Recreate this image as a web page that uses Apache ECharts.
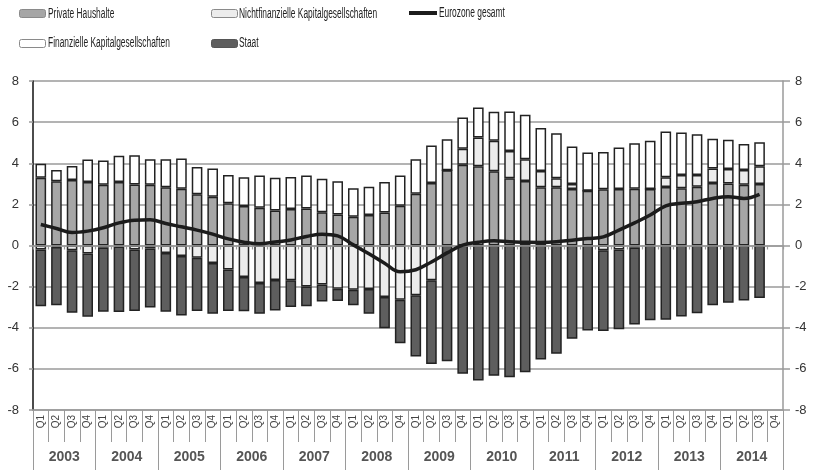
<!DOCTYPE html>
<html>
<head>
<meta charset="utf-8">
<script src="https://cdn.jsdelivr.net/npm/echarts@6/dist/echarts.min.js"></script>
<style>
  html, body { margin: 0; padding: 0; background: #fff; }
  #chart { width: 813px; height: 474px; }
</style>
</head>
<body>
<div id="chart"></div>
<script>
// Finanzierungssalden der Sektoren im Euroraum, Quartale 2003 Q1 – 2014 Q4 (in % des BIP)
const years = ['2003', '2004', '2005', '2006', '2007', '2008', '2009', '2010', '2011', '2012', '2013', '2014'];
const quarterNames = ['Q1', 'Q2', 'Q3', 'Q4'];
const periods = years.flatMap(y => quarterNames.map(q => y + ' ' + q));
const quarterLabels = years.flatMap(() => quarterNames);

const privateHaushalte = [
  3.30, 3.12, 3.19, 3.09, 2.96, 3.09, 2.97, 2.96, 2.83, 2.76, 2.49, 2.37,
  2.05, 1.92, 1.83, 1.70, 1.77, 1.80, 1.62, 1.51, 1.40, 1.48, 1.61, 1.93,
  2.52, 3.04, 3.66, 3.93, 3.85, 3.61, 3.27, 3.14, 2.83, 2.83, 2.75, 2.66,
  2.73, 2.75, 2.76, 2.75, 2.84, 2.78, 2.86, 3.04, 3.02, 2.96, 2.99, null
];
const nichtfinanzielle = [
  -0.20, -0.07, -0.23, -0.39, -0.10, -0.05, -0.20, -0.15, -0.36, -0.51, -0.60, -0.85,
  -1.17, -1.53, -1.82, -1.68, -1.69, -1.99, -1.90, -2.10, -2.15, -2.12, -2.51, -2.64,
  -2.42, -1.69, 0.00, 0.78, 1.40, 1.48, 1.32, 1.05, 0.79, 0.44, 0.24, 0.00,
  -0.23, -0.20, -0.10, 0.00, 0.48, 0.65, 0.57, 0.70, 0.70, 0.71, 0.86, null
];
const finanzielle = [
  0.67, 0.55, 0.68, 1.09, 1.17, 1.28, 1.42, 1.23, 1.36, 1.47, 1.33, 1.38,
  1.38, 1.40, 1.57, 1.60, 1.56, 1.60, 1.63, 1.61, 1.38, 1.38, 1.48, 1.47,
  1.67, 1.82, 1.51, 1.51, 1.46, 1.41, 1.93, 2.17, 2.09, 2.19, 1.82, 1.86,
  1.82, 2.01, 2.21, 2.34, 2.22, 2.06, 1.98, 1.45, 1.42, 1.27, 1.17, null
];
const staat = [
  -2.76, -2.83, -3.04, -3.07, -3.12, -3.19, -2.99, -2.87, -2.86, -2.90, -2.59, -2.47,
  -2.02, -1.67, -1.50, -1.48, -1.30, -0.97, -0.82, -0.60, -0.76, -1.20, -1.51, -2.11,
  -2.98, -4.07, -5.63, -6.24, -6.57, -6.33, -6.41, -6.17, -5.55, -5.27, -4.54, -4.13,
  -3.93, -3.87, -3.74, -3.64, -3.61, -3.45, -3.29, -2.91, -2.78, -2.67, -2.55, null
];
const eurozoneGesamt = [
  1.02, 0.83, 0.63, 0.70, 0.86, 1.10, 1.23, 1.25, 1.07, 0.91, 0.75, 0.55,
  0.32, 0.16, 0.08, 0.17, 0.27, 0.44, 0.55, 0.47, 0.03, -0.40, -0.86, -1.28,
  -1.18, -0.80, -0.36, 0.02, 0.16, 0.23, 0.18, 0.16, 0.15, 0.18, 0.26, 0.34,
  0.42, 0.75, 1.10, 1.48, 1.93, 2.05, 2.13, 2.29, 2.37, 2.29, 2.49, null
];
const yTicks = { min: -8, max: 8, interval: 2 };

const FONT = "'Liberation Sans', Arial, sans-serif";
const GRID_GRAY = '#9a9a9a';
const BORDER = '#222';

const chart = echarts.init(document.getElementById('chart'), null, { renderer: 'canvas' });

function barSeries(name, data, color) {
  return {
    name: name,
    type: 'bar',
    stack: 'sektoren',
    data: data,
    barWidth: '68%',
    itemStyle: { color: color, borderColor: BORDER, borderWidth: 1.5 },
    emphasis: { disabled: true }
  };
}

// Legend swatches only; the captions are drawn as condensed text below.
function legendSwatch(name, left, top, itemStyle, extra) {
  return Object.assign({
    data: [{ name: name, itemStyle: itemStyle }],
    left: left,
    top: top,
    padding: 0,
    itemWidth: 26,
    itemHeight: 8,
    selectedMode: false,
    formatter: () => '',
    textStyle: { fontSize: 1 }
  }, extra || {});
}

function caption(text, x, y) {
  return {
    type: 'text',
    x: x,
    y: y,
    scaleX: 0.6,
    silent: true,
    style: { text: text, fontFamily: FONT, fontSize: 14, fill: '#222', align: 'left', verticalAlign: 'middle' }
  };
}

const yAxisBase = {
  type: 'value',
  min: yTicks.min,
  max: yTicks.max,
  interval: yTicks.interval,
  axisLabel: { fontFamily: FONT, fontSize: 13, color: '#333' }
};

chart.setOption({
  animation: false,
  backgroundColor: '#fff',
  textStyle: { fontFamily: FONT },
  legend: [
    legendSwatch('Private Haushalte', 19, 9, { borderColor: '#8a8a8a', borderWidth: 1 }),
    legendSwatch('Finanzielle Kapitalgesellschaften', 19, 39, { borderColor: '#8a8a8a', borderWidth: 1 }),
    legendSwatch('Nichtfinanzielle Kapitalgesellschaften', 211, 9, { borderColor: '#8a8a8a', borderWidth: 1 }),
    legendSwatch('Staat', 211, 39, { borderColor: '#555', borderWidth: 1 }),
    legendSwatch('Eurozone gesamt', 409, 11, { color: '#1c1c1c', borderWidth: 0 },
      { itemWidth: 28, itemHeight: 4, icon: 'rect' })
  ],
  graphic: [
    caption('Private Haushalte', 48, 14),
    caption('Finanzielle Kapitalgesellschaften', 48, 43),
    caption('Nichtfinanzielle Kapitalgesellschaften', 239, 14),
    caption('Staat', 239, 43),
    caption('Eurozone gesamt', 439, 13)
  ],
  grid: { left: 33, right: 30, top: 81, bottom: 64, containLabel: false },
  xAxis: [
    {
      type: 'category',
      data: periods,
      boundaryGap: true,
      axisLine: { onZero: true, lineStyle: { color: GRID_GRAY, width: 1.5 } },
      axisTick: { show: true, interval: 0, length: 4, lineStyle: { color: GRID_GRAY, width: 1.2 } },
      axisLabel: { show: false },
      splitLine: { show: false },
      z: 3
    },
    {
      type: 'category',
      data: quarterLabels,
      position: 'bottom',
      boundaryGap: true,
      axisLine: { onZero: false, lineStyle: { color: GRID_GRAY, width: 1.5 } },
      axisTick: { show: true, interval: 0, length: 32, lineStyle: { color: GRID_GRAY, width: 1 } },
      axisLabel: { interval: 0, rotate: 90, margin: 5, fontFamily: FONT, fontSize: 10, color: '#444' },
      splitLine: { show: false }
    },
    {
      type: 'category',
      data: years,
      position: 'bottom',
      boundaryGap: true,
      axisLine: { show: false, onZero: false },
      axisTick: { show: true, interval: 0, length: 60, lineStyle: { color: GRID_GRAY, width: 1 } },
      axisLabel: { interval: 0, margin: 40, fontFamily: FONT, fontSize: 14, fontWeight: 'bold', color: '#555' },
      splitLine: { show: false }
    }
  ],
  yAxis: [
    Object.assign({}, yAxisBase, {
      position: 'left',
      axisLine: { show: true, onZero: false, lineStyle: { color: '#111', width: 1.5 } },
      axisTick: { show: true, length: 4, lineStyle: { color: GRID_GRAY, width: 1.5 } },
      axisLabel: Object.assign({}, yAxisBase.axisLabel, { margin: 14 }),
      splitLine: { show: true, lineStyle: { color: GRID_GRAY, width: 1.5 } }
    }),
    Object.assign({}, yAxisBase, {
      position: 'right',
      axisLine: { show: true, onZero: false, lineStyle: { color: GRID_GRAY, width: 1.5 } },
      axisTick: { show: true, length: 7, lineStyle: { color: GRID_GRAY, width: 1.5 } },
      axisLabel: Object.assign({}, yAxisBase.axisLabel, { margin: 12 }),
      splitLine: { show: false }
    })
  ],
  series: [
    barSeries('Private Haushalte', privateHaushalte, '#a6a6a6'),
    barSeries('Nichtfinanzielle Kapitalgesellschaften', nichtfinanzielle, '#ececec'),
    barSeries('Finanzielle Kapitalgesellschaften', finanzielle, '#ffffff'),
    barSeries('Staat', staat, '#5e5e5e'),
    {
      name: 'Eurozone gesamt',
      type: 'line',
      data: eurozoneGesamt,
      smooth: 0.4,
      symbol: 'none',
      connectNulls: false,
      lineStyle: { color: '#1c1c1c', width: 3.5 },
      itemStyle: { color: '#1c1c1c' },
      z: 5
    }
  ]
});
</script>
</body>
</html>
